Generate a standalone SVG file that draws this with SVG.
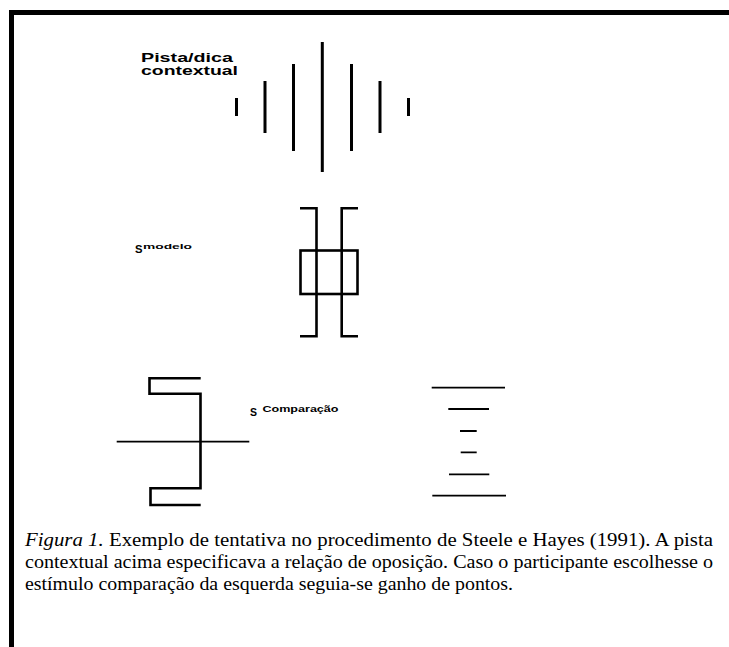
<svg xmlns="http://www.w3.org/2000/svg" width="729" height="647" viewBox="0 0 729 647">
<style>
.bd{fill:none;stroke:#000;stroke-width:5}
.ln{fill:none;stroke:#000;stroke-width:3;stroke-linecap:butt}
.sh{fill:none;stroke:#000;stroke-width:2.6;stroke-linejoin:miter}
.th{fill:none;stroke:#000;stroke-width:1.8}
.lb{font-family:"Liberation Sans",Arial,sans-serif;font-weight:bold;fill:#000}
.cap{font-family:"Liberation Serif","Times New Roman",serif;font-size:18px;fill:#000}
</style>
<rect width="729" height="647" fill="#fff"/>
<g id="frame">
<path class="bd" d="M11.5,647 V12.5 H729"/>
</g>
<g id="cue">
<text class="lb" x="141" y="62" font-size="12" textLength="92" lengthAdjust="spacingAndGlyphs">Pista/dica</text>
<text class="lb" x="141" y="75" font-size="12" textLength="97" lengthAdjust="spacingAndGlyphs">contextual</text>
<path class="ln" d="M236.5,98 V116 M265,81 V133 M293.5,64 V151 M322.3,42 V172 M351.5,64 V151 M380,81 V133 M408.5,98 V116"/>
</g>
<g id="sample">
<text class="lb" x="135" y="253" font-size="11.5" textLength="7.5" lengthAdjust="spacingAndGlyphs">S</text>
<text class="lb" x="143" y="248.5" font-size="7.5" textLength="49" lengthAdjust="spacingAndGlyphs">modelo</text>
<path class="sh" d="M300,208.3 H316.5 V336.3 H300 M358,208.3 H341.7 V336.3 H358"/>
<rect class="sh" x="300.5" y="250.5" width="57" height="43.5"/>
</g>
<g id="comparison-left">
<path class="sh" d="M200.7,378.3 H149.5 V393.8 H200.5 V488.3 H150.5 V505 H200.7"/>
<path class="th" d="M116.7,441.7 H249.3"/>
</g>
<g id="comparison-label">
<text class="lb" x="250" y="415.5" font-size="11.5" textLength="7" lengthAdjust="spacingAndGlyphs">S</text>
<text class="lb" x="262.5" y="411.5" font-size="9.5" textLength="76" lengthAdjust="spacingAndGlyphs">Comparação</text>
</g>
<g id="comparison-right">
<path class="th" d="M431.7,387.7 H505 M448.3,409 H489 M460,431 H476.7 M460.7,452.3 H476.7 M449,474.3 H489.3 M432.3,495.7 H506"/>
</g>
<g id="caption">
<text class="cap" x="25" y="545.5" textLength="688" lengthAdjust="spacingAndGlyphs"><tspan font-style="italic">Figura 1.</tspan> Exemplo de tentativa no procedimento de Steele e Hayes (1991). A pista</text>
<text class="cap" x="25" y="567.5" textLength="688" lengthAdjust="spacingAndGlyphs">contextual acima especificava a relação de oposição. Caso o participante escolhesse o</text>
<text class="cap" x="25" y="589.5" textLength="488" lengthAdjust="spacingAndGlyphs">estímulo comparação da esquerda seguia-se ganho de pontos.</text>
</g>
</svg>
